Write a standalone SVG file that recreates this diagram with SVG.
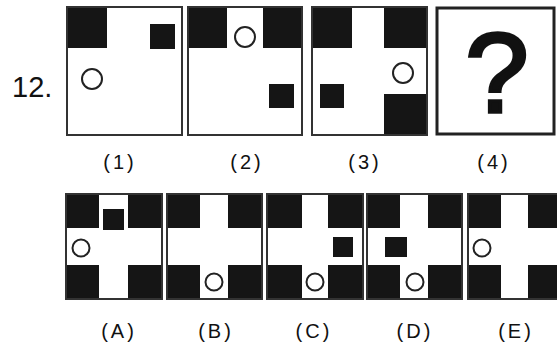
<svg xmlns="http://www.w3.org/2000/svg" width="557" height="359" viewBox="0 0 557 359">
<style>
.frame{fill:none;stroke:#333;stroke-width:2}
.blk{fill:#151515}
.cir{fill:#fff;stroke:#222;stroke-width:2}
.lbl{font-family:"Liberation Sans",Arial,sans-serif;font-size:20px;fill:#111;text-anchor:middle;letter-spacing:3px}
</style>
<rect width="557" height="359" fill="#fff"/>
<text x="12" y="97" font-family="Liberation Sans, Arial, sans-serif" font-size="29" fill="#111">12.</text>
<g id="fig1">
<rect class="blk" x="67" y="7" width="40" height="41"/>
<rect class="blk" x="150" y="24" width="25" height="25"/>
<circle class="cir" cx="92" cy="79" r="10"/>
<rect class="frame" x="67" y="7" width="115" height="128"/>
</g>
<g id="fig2">
<rect class="blk" x="188" y="7" width="39" height="41"/>
<rect class="blk" x="263" y="7" width="39" height="41"/>
<rect class="blk" x="269" y="84" width="25" height="24"/>
<circle class="cir" cx="245" cy="37" r="10"/>
<rect class="frame" x="188" y="7" width="114" height="128"/>
</g>
<g id="fig3">
<rect class="blk" x="312" y="7" width="40" height="41"/>
<rect class="blk" x="384" y="7" width="43" height="41"/>
<rect class="blk" x="384" y="94" width="43" height="41"/>
<rect class="blk" x="320" y="84" width="24" height="24"/>
<circle class="cir" cx="403" cy="73" r="10"/>
<rect class="frame" x="312" y="7" width="115" height="128"/>
</g>
<g id="fig4">
<rect x="437" y="8" width="117" height="126" fill="none" stroke="#222" stroke-width="3"/>
<text x="497" y="112" font-family="Liberation Sans, Arial, sans-serif" font-size="114" fill="#111" stroke="#111" stroke-width="3.5" text-anchor="middle">?</text>
</g>
<text class="lbl" x="120" y="169">(1)</text>
<text class="lbl" x="247" y="169">(2)</text>
<text class="lbl" x="365" y="169">(3)</text>
<text class="lbl" x="494" y="169">(4)</text>
<g id="optA">
<rect class="blk" x="66" y="194" width="33" height="34"/>
<rect class="blk" x="128" y="194" width="34" height="34"/>
<rect class="blk" x="66" y="265" width="33" height="34"/>
<rect class="blk" x="128" y="265" width="34" height="34"/>
<rect class="blk" x="103" y="209" width="21" height="21"/>
<circle class="cir" cx="81" cy="248" r="8.5"/>
<rect class="frame" x="66" y="194" width="96" height="105"/>
</g>
<g id="optB">
<rect class="blk" x="167" y="194" width="33" height="34"/>
<rect class="blk" x="228" y="194" width="34" height="34"/>
<rect class="blk" x="167" y="265" width="33" height="34"/>
<rect class="blk" x="228" y="265" width="34" height="34"/>
<circle class="cir" cx="214" cy="282" r="8.5"/>
<rect class="frame" x="167" y="194" width="95" height="105"/>
</g>
<g id="optC">
<rect class="blk" x="267" y="194" width="35" height="34"/>
<rect class="blk" x="328" y="194" width="35" height="34"/>
<rect class="blk" x="267" y="265" width="35" height="34"/>
<rect class="blk" x="328" y="265" width="35" height="34"/>
<rect class="blk" x="333" y="237" width="20" height="20"/>
<circle class="cir" cx="315" cy="282" r="8.5"/>
<rect class="frame" x="267" y="194" width="96" height="105"/>
</g>
<g id="optD">
<rect class="blk" x="367" y="194" width="33" height="34"/>
<rect class="blk" x="428" y="194" width="34" height="34"/>
<rect class="blk" x="367" y="265" width="33" height="34"/>
<rect class="blk" x="428" y="265" width="34" height="34"/>
<rect class="blk" x="385" y="237" width="22" height="20"/>
<circle class="cir" cx="415" cy="282" r="8.5"/>
<rect class="frame" x="367" y="194" width="95" height="105"/>
</g>
<g id="optE">
<rect class="blk" x="468" y="194" width="33" height="34"/>
<rect class="blk" x="528" y="194" width="34" height="34"/>
<rect class="blk" x="468" y="265" width="33" height="34"/>
<rect class="blk" x="528" y="265" width="34" height="34"/>
<circle class="cir" cx="482" cy="248" r="8.5"/>
<rect class="frame" x="468" y="194" width="96" height="105"/>
</g>
<text class="lbl" x="119" y="338">(A)</text>
<text class="lbl" x="216" y="338">(B)</text>
<text class="lbl" x="314" y="338">(C)</text>
<text class="lbl" x="415" y="338">(D)</text>
<text class="lbl" x="516" y="338">(E)</text>
</svg>
